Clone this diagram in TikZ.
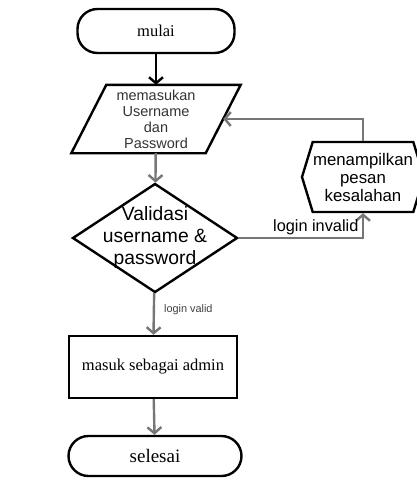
\documentclass[tikz,border=0pt]{standalone}
\usepackage{fontspec}
\setmainfont{Liberation Serif}
\setsansfont{Liberation Sans}
\usetikzlibrary{arrows.meta, positioning, shapes.geometric, shapes.symbols}
\definecolor{flowgray}{RGB}{118,118,118}

\begin{document}
\begin{tikzpicture}[x=1pt, y=-1pt,
    terminal/.style={draw, line width=2.4pt, rounded corners=20pt,
        minimum width=157pt, minimum height=44pt, inner sep=0pt,
        font=\fontsize{16.5}{18}\selectfont},
    process/.style={draw, line width=2.4pt, minimum width=168pt,
        minimum height=62pt, inner sep=0pt, font=\fontsize{16.5}{18}\selectfont},
    inputbox/.style={minimum width=134pt, minimum height=68pt, inner sep=0pt},
    slanted/.style={draw, line width=2.4pt, line join=miter},
    decision/.style={draw, line width=2.4pt, diamond, minimum width=165pt,
        minimum height=109pt, inner sep=0pt},
    showbox/.style={draw, line width=2.4pt, signal, signal to=west and east,
        signal pointer angle=146, minimum width=122pt, minimum height=70pt,
        inner sep=0pt},
    sans/.style 2 args={align=center, inner sep=0pt,
        font=\sffamily\fontsize{#1}{#2}\selectfont},
    flow/.style={draw=flowgray, line width=2.4pt,
        -{Straight Barb[length=6pt, width=14pt]}},
    startflow/.style={flow, draw=black}
]
\useasboundingbox (0,0) rectangle (416,490);

\node[terminal] (mulai) at (156,31) {mulai};
\node[inputbox] (input) at (156,119) {};
\draw[slanted] ([xshift=-17.5pt]input.south west)
    -- ([xshift=17.5pt]input.north west)
    -- ([xshift=17.5pt]input.north east)
    -- ([xshift=-17.5pt]input.south east) -- cycle;
\node[sans={14.5}{16}, text=black!80] (inputtxt) at (input.center)
    {memasukan\\Username\\dan\\Password};
\node[decision] (valid) at (155,238) {};
\node[sans={19.3}{22}] (validtxt) at (valid.center)
    {Validasi\\username \&\\password};
\node[showbox] (pesan) at (363,177) {};
\node[sans={16.8}{18}] (pesantxt) at (pesan.center)
    {menampilkan\\pesan\\kesalahan};
\node[process] (admin) at (153,367) {masuk sebagai admin};
\node[terminal, minimum width=173pt, minimum height=40pt,
    font=\fontsize{19}{20}\selectfont] (selesai) at (155,456) {selesai};

% alur utama
\draw[startflow] (mulai) -- (input);
\draw[flow] (input) -- (valid);
\draw[flow] (valid) -- node[right=9pt, pos=0.4, sans={10.9}{12}, text=black!75]
    (lblvalid) {login valid} (admin);
\draw[flow] (admin) -- (selesai);

% login gagal
\draw[flow] (valid.east) -| node[above=2pt, pos=0.31, sans={16.3}{18}] (lblinvalid)
    {login invalid} (pesan.south);
\draw[flow] (pesan.north) |- (input.east);
\end{tikzpicture}
\end{document}
